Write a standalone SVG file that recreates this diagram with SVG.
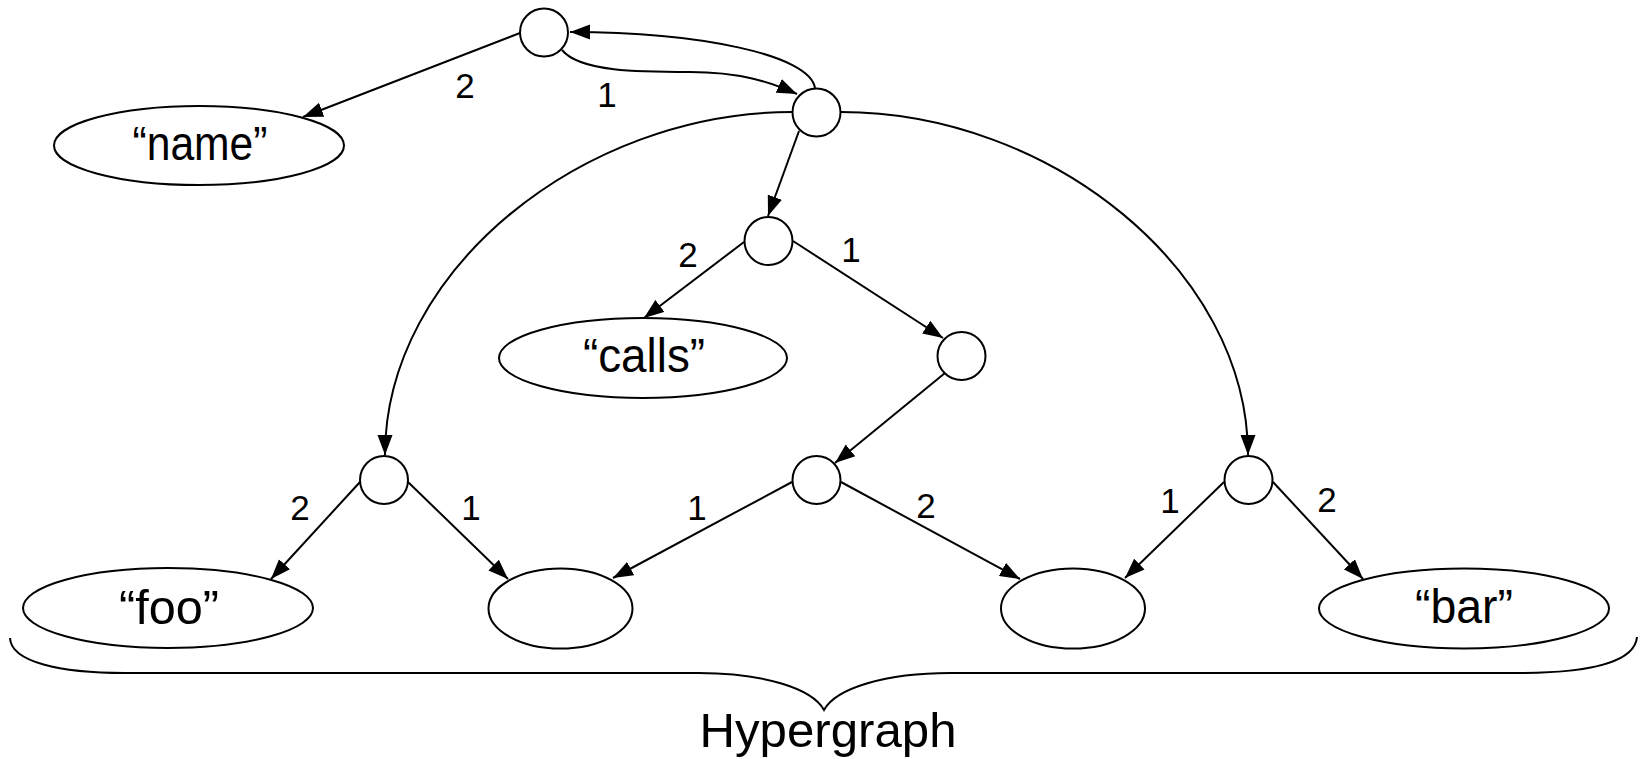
<svg xmlns="http://www.w3.org/2000/svg" width="1646" height="759" viewBox="0 0 1646 759">
  <style>
    .node { fill: #fff; stroke: #000; stroke-width: 2; }
    .edge { fill: none; stroke: #000; stroke-width: 2; marker-end: url(#arr); }
    .plain { fill: none; stroke: #000; stroke-width: 2; }
    .big { font-family: "Comic Sans MS", "Liberation Sans", "DejaVu Sans", sans-serif; font-size: 48px; fill: #000; text-anchor: middle; }
    .num { font-family: "Comic Sans MS", "Liberation Sans", "DejaVu Sans", sans-serif; font-size: 35px; fill: #000; text-anchor: middle; }
  </style>
  <defs>
    <marker id="arr" markerUnits="userSpaceOnUse" markerWidth="20" markerHeight="16" refX="20" refY="8" orient="auto">
      <path d="M0,0.5 L20,8 L0,15.5 z" fill="#000"/>
    </marker>
  </defs>
  <rect width="1646" height="759" fill="#fff"/>

  <!-- connectors -->
  <g id="connectors">
    <path class="edge" d="M520,33 L303,117"/>
    <path class="edge" d="M562,50 C580,72 640,72 690,72 C740,72 770,82 797,94"/>
    <path class="edge" d="M815,88 C810,55 700,32 570,32"/>
    <path class="edge" d="M799,131 L768,216"/>
    <path class="edge" d="M792,112 C583,112 385,270 385,455"/>
    <path class="edge" d="M841,112 C1050,112 1248,270 1248,455"/>
    <path class="edge" d="M744,242 L644,318"/>
    <path class="edge" d="M793,241 L943,338"/>
    <path class="edge" d="M945,373 L835,463"/>
    <path class="edge" d="M360,482 L271,579"/>
    <path class="edge" d="M408,482 L508,579"/>
    <path class="edge" d="M792,482 L613,578"/>
    <path class="edge" d="M841,482 L1020,579"/>
    <path class="edge" d="M1224,482 L1125,578"/>
    <path class="edge" d="M1273,482 L1363,579"/>
  </g>

  <!-- edge position labels -->
  <g id="labels">
    <text class="num" x="465" y="98">2</text>
    <text class="num" x="607" y="107">1</text>
    <text class="num" x="688" y="267">2</text>
    <text class="num" x="851" y="262">1</text>
    <text class="num" x="300" y="520">2</text>
    <text class="num" x="471" y="520">1</text>
    <text class="num" x="697" y="520">1</text>
    <text class="num" x="926" y="518">2</text>
    <text class="num" x="1170" y="513">1</text>
    <text class="num" x="1327" y="512">2</text>
  </g>

  <!-- hyperedge nodes -->
  <g id="nA"><circle class="node" cx="544" cy="32.5" r="24"/></g>
  <g id="nB"><circle class="node" cx="816.5" cy="112.5" r="24"/></g>
  <g id="nC"><circle class="node" cx="768.5" cy="241" r="24"/></g>
  <g id="nD"><circle class="node" cx="961.5" cy="356" r="24"/></g>
  <g id="nE"><circle class="node" cx="384" cy="480" r="24"/></g>
  <g id="nF"><circle class="node" cx="816.5" cy="480" r="24"/></g>
  <g id="nG"><circle class="node" cx="1248.5" cy="480" r="24"/></g>

  <!-- value nodes -->
  <g id="name">
    <ellipse class="node" cx="199" cy="145.5" rx="145" ry="39.5"/>
    <text class="big" x="200" y="160" textLength="135" lengthAdjust="spacingAndGlyphs">“name”</text>
  </g>
  <g id="calls">
    <ellipse class="node" cx="643" cy="358" rx="144" ry="40"/>
    <text class="big" x="644" y="372" textLength="122" lengthAdjust="spacingAndGlyphs">“calls”</text>
  </g>
  <g id="foo">
    <ellipse class="node" cx="168" cy="608" rx="145" ry="40"/>
    <text class="big" x="169" y="624" textLength="100" lengthAdjust="spacingAndGlyphs">“foo”</text>
  </g>
  <g id="empty1"><ellipse class="node" cx="560.5" cy="608.5" rx="72" ry="40"/></g>
  <g id="empty2"><ellipse class="node" cx="1073" cy="608.5" rx="72" ry="40"/></g>
  <g id="bar">
    <ellipse class="node" cx="1464" cy="608.5" rx="145" ry="40"/>
    <text class="big" x="1464" y="623" textLength="98" lengthAdjust="spacingAndGlyphs">“bar”</text>
  </g>

  <!-- brace with caption -->
  <g id="hypergraph">
    <path class="plain" d="M10,638 C11,662 60,673 125,673 L699,673 C762,673 812,688 824,710 C836,688 886,673 950,673 L1518,673 C1590,673 1635,662 1637,637"/>
    <text class="big" x="828" y="747" textLength="257" lengthAdjust="spacingAndGlyphs">Hypergraph</text>
  </g>
</svg>
